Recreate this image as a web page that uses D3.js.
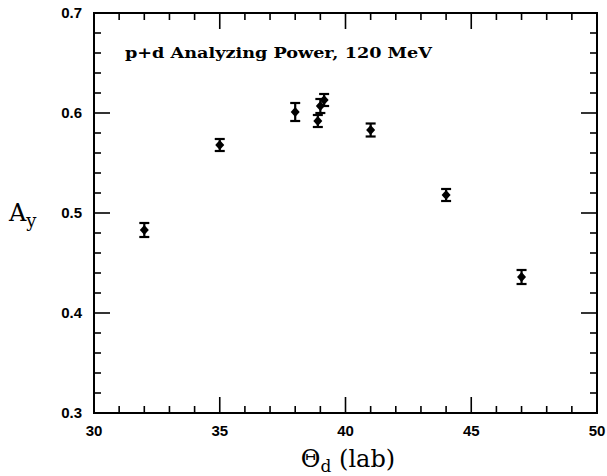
<!DOCTYPE html>
<html>
<head>
<meta charset="utf-8">
<script src="https://cdn.jsdelivr.net/npm/d3@7"></script>
<style>
  body { margin: 0; background: white; }
</style>
</head>
<body>
<div id="chart"></div>
<script>
const angles = [32, 35, 38, 38.9, 39.0, 39.15, 41, 44, 47];
const ay     = [0.483, 0.568, 0.601, 0.592, 0.607, 0.613, 0.583, 0.518, 0.436];
const errs   = [0.007, 0.006, 0.009, 0.006, 0.007, 0.006, 0.0065, 0.006, 0.007];
const xTicks = [30, 35, 40, 45, 50];
const yTicks = [0.3, 0.4, 0.5, 0.6, 0.7];

const width = 607, height = 476;
const margin = { top: 13, right: 10, bottom: 63, left: 94 };

const svg = d3.select("#chart").append("svg")
  .attr("width", width)
  .attr("height", height);

const x = d3.scaleLinear().domain([30, 50]).range([margin.left, width - margin.right]);
const y = d3.scaleLinear().domain([0.3, 0.7]).range([height - margin.bottom, margin.top]);

const x0 = x.range()[0], x1 = x.range()[1];
const y0 = y.range()[0], y1 = y.range()[1];

// frame
svg.append("rect")
  .attr("x", x0).attr("y", y1)
  .attr("width", x1 - x0).attr("height", y0 - y1)
  .attr("fill", "none").attr("stroke", "#000").attr("stroke-width", 2);

const minorX = d3.range(30, 50.001, 1);
const minorY = d3.range(0.3, 0.7001, 0.02);
const isMajorX = v => Math.abs(v / 5 - Math.round(v / 5)) < 1e-6;
const isMajorY = v => Math.abs(v * 10 - Math.round(v * 10)) < 1e-6;

const ticks = svg.append("g").attr("stroke", "#000").attr("stroke-width", 1.6);
minorX.forEach(v => {
  const len = isMajorX(v) ? 16 : 7;
  ticks.append("line").attr("x1", x(v)).attr("x2", x(v)).attr("y1", y0).attr("y2", y0 - len);
  ticks.append("line").attr("x1", x(v)).attr("x2", x(v)).attr("y1", y1).attr("y2", y1 + len);
});
minorY.forEach(v => {
  const len = isMajorY(v) ? 16 : 7;
  ticks.append("line").attr("x1", x0).attr("x2", x0 + len).attr("y1", y(v)).attr("y2", y(v));
  ticks.append("line").attr("x1", x1).attr("x2", x1 - len).attr("y1", y(v)).attr("y2", y(v));
});

// tick labels
svg.append("g").selectAll("text").data(xTicks).join("text")
  .attr("x", d => x(d)).attr("y", y0 + 23)
  .attr("text-anchor", "middle")
  .attr("font-family", "Liberation Sans, Arial, sans-serif")
  .attr("font-weight", "bold").attr("font-size", 15)
  .text(d => d);

svg.append("g").selectAll("text").data(yTicks).join("text")
  .attr("x", x0 - 12).attr("y", d => y(d) + 5)
  .attr("text-anchor", "end")
  .attr("font-family", "Liberation Sans, Arial, sans-serif")
  .attr("font-weight", "bold").attr("font-size", 15)
  .text(d => d.toFixed(1));

// axis titles
const yt = svg.append("text")
  .attr("x", 9).attr("y", 221)
  .attr("font-family", "DejaVu Serif, serif")
  .attr("font-size", 24);
yt.append("tspan").text("A");
yt.append("tspan").attr("dy", 6).attr("font-size", 18).text("y");

const xt = svg.append("text")
  .attr("x", 348).attr("y", 467)
  .attr("text-anchor", "middle")
  .attr("font-family", "DejaVu Serif, serif")
  .attr("font-size", 24);
xt.append("tspan").text("Θ");
xt.append("tspan").attr("dy", 5).attr("font-size", 17).text("d");
xt.append("tspan").attr("dy", -5).text(" (lab)");

// chart label
svg.append("text")
  .attr("x", 125).attr("y", 58)
  .attr("font-family", "DejaVu Serif, serif")
  .attr("font-weight", "bold").attr("font-size", 15)
  .attr("textLength", 307).attr("lengthAdjust", "spacingAndGlyphs")
  .text("p+d Analyzing Power, 120 MeV");

// data
const data = angles.map((a, i) => ({ a, v: ay[i], e: errs[i] }));
const pts = svg.append("g").attr("stroke", "#000").attr("stroke-width", 2.2);

pts.selectAll("line.err").data(data).join("line").attr("class", "err")
  .attr("x1", d => x(d.a)).attr("x2", d => x(d.a))
  .attr("y1", d => y(d.v - d.e)).attr("y2", d => y(d.v + d.e));
pts.selectAll("line.capL").data(data).join("line").attr("class", "capL")
  .attr("x1", d => x(d.a) - 5).attr("x2", d => x(d.a) + 5)
  .attr("y1", d => y(d.v - d.e)).attr("y2", d => y(d.v - d.e));
pts.selectAll("line.capH").data(data).join("line").attr("class", "capH")
  .attr("x1", d => x(d.a) - 5).attr("x2", d => x(d.a) + 5)
  .attr("y1", d => y(d.v + d.e)).attr("y2", d => y(d.v + d.e));

svg.append("g").selectAll("path").data(data).join("path")
  .attr("d", d => {
    const cx = x(d.a), cy = y(d.v);
    return `M${cx},${cy - 5}L${cx + 4.5},${cy}L${cx},${cy + 5}L${cx - 4.5},${cy}Z`;
  })
  .attr("fill", "#000");
</script>
</body>
</html>
